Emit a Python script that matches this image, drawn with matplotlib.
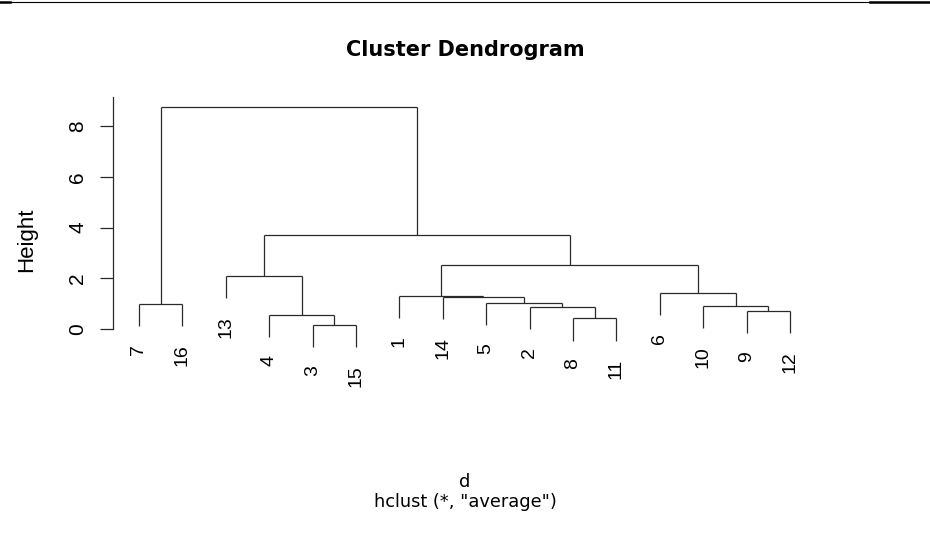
import numpy as np
import matplotlib.pyplot as plt
from matplotlib.lines import Line2D

plt.rcParams["font.family"] = ["Liberation Sans", "DejaVu Sans"]

# merge table in hclust style: negative = leaf, positive = earlier merge (1-based)
merge_a = [-3, -8, -4, -9, -2, -10, -7, -5, -14, -1, -6, -13, 10, 12, 7]
merge_b = [-15, -11, 1, -12, 2, 4, -16, 5, 8, 9, 6, 3, 11, 13, 14]
heights = [0.16, 0.42, 0.55, 0.70, 0.87, 0.92, 0.98, 1.04, 1.25, 1.31,
           1.43, 2.09, 2.52, 3.70, 8.74]
leaf_order = [7, 16, 13, 4, 3, 15, 1, 14, 5, 2, 8, 11, 6, 10, 9, 12]
yticks = [0, 2, 4, 6, 8]

W, H = 930, 546
fig = plt.figure(figsize=(W / 100, H / 100), dpi=100)

# axes placed in pixels: y-axis at x=113, leaf 1 at x=139, leaf 16 at x=790
px_x = 43.4
px_y = 25.375
ax = fig.add_axes([113 / W, (H - 400) / H, 717 / W, 303 / H])
ax.set_xlim(1 - 26 / px_x, 1 - 26 / px_x + 717 / px_x)
ax.set_ylim(-71 / px_y, (329 - 97) / px_y)

pos = {leaf: i + 1 for i, leaf in enumerate(leaf_order)}
hang = 0.1 * max(heights)
lc = "#2a2a2a"
lw = 0.9


def node_xy(ref):
    if ref < 0:
        return pos[-ref], None
    return mid[ref - 1], heights[ref - 1]


mid = []
for k, (a, b) in enumerate(zip(merge_a, merge_b)):
    h = heights[k]
    xs = []
    for ref in (a, b):
        x, y = node_xy(ref)
        if y is None:
            y = h - hang
            ax.annotate(str(-ref), xy=(x, y), xytext=(0, -13),
                        textcoords="offset points", rotation=90,
                        ha="center", va="top", fontsize=14,
                        annotation_clip=False)
        ax.plot([x, x], [y, h], color=lc, lw=lw, solid_capstyle="butt")
        xs.append(x)
    ax.plot(xs, [h, h], color=lc, lw=lw, solid_capstyle="butt")
    mid.append(sum(xs) / 2)

for side in ["top", "right", "bottom"]:
    ax.spines[side].set_visible(False)
ax.spines["left"].set_bounds(0, (329 - 97) / px_y)
ax.spines["left"].set_color(lc)
ax.spines["left"].set_linewidth(lw)
ax.set_xticks([])
ax.set_yticks(yticks)
ax.set_yticklabels([str(t) for t in yticks], rotation=90, va="center",
                   fontsize=15)
ax.tick_params(axis="y", length=9.5, width=lw, color=lc, pad=9)

fig.text(0.5, 1 - 56 / H, "Cluster Dendrogram", ha="center", va="baseline",
         fontsize=15, fontweight="bold", family="DejaVu Sans")
fig.text(27 / W, 1 - 240 / H, "Height", rotation=90, ha="center",
         va="center", fontsize=16)
fig.text(0.5, 1 - 487 / H, "d", ha="center", va="baseline", fontsize=12.8,
         family="DejaVu Sans")
fig.text(0.5, 1 - 507 / H, 'hclust (*, "average")', ha="center",
         va="baseline", fontsize=12.8, family="DejaVu Sans")

# thin rule along the very top of the image
fig.add_artist(Line2D([0, 1], [1 - 1.5 / H, 1 - 1.5 / H], color="black",
                      lw=0.8, transform=fig.transFigure))
fig.add_artist(Line2D([0, 10 / W], [1 - 2 / H, 1 - 2 / H], color="black",
                      lw=1.8, transform=fig.transFigure))
fig.add_artist(Line2D([870 / W, 1], [1 - 2 / H, 1 - 2 / H], color="black",
                      lw=1.8, transform=fig.transFigure))

fig.savefig("out.png", dpi=100)
